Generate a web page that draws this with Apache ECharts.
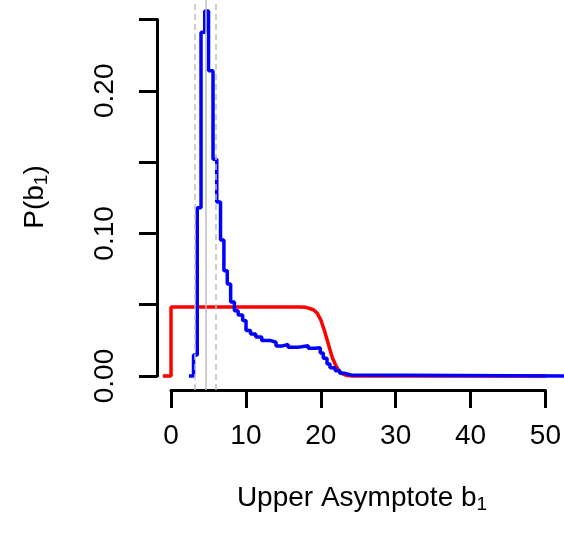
<!DOCTYPE html>
<html>
<head>
<meta charset="utf-8">
<script src="https://cdn.jsdelivr.net/npm/echarts@6/dist/echarts.min.js"></script>
<style>
  html, body { margin: 0; padding: 0; background: #fff; }
  #chart { width: 564px; height: 536px; }
</style>
</head>
<body>
<div id="chart"></div>
<script>
// posterior (blue, step line)
var blueX = [2.4, 3.0, 3.5, 4.0, 4.5, 5.0, 5.6, 6.1, 6.6, 7.05, 7.5, 7.95, 8.45, 8.95, 9.55, 10.0,
    10.6, 11.3, 12.1, 13.2, 14.0, 14.8, 15.6, 16.8, 17.4, 18.3, 19.2, 19.9, 20.3, 20.8, 21.2,
    21.9, 22.5, 23.2, 24.0, 52.4];
var blueY = [0, 0.0147, 0.118, 0.241, 0.256, 0.214, 0.152, 0.122, 0.0954, 0.0739, 0.0645, 0.052,
    0.0458, 0.0428, 0.039, 0.032, 0.0294, 0.0273, 0.025, 0.0237, 0.021, 0.0222, 0.0201, 0.0205,
    0.0212, 0.0194, 0.0198, 0.0161, 0.0124, 0.0084, 0.0058, 0.0037, 0.0019, 0.0007, 0, 0];

// prior (red)
var redX = [-1.1, 0, 0, 17, 18, 19, 19.5, 20, 20.5, 21, 21.5, 22, 22.5, 23, 23.5, 24, 25, 50];
var redY = [0, 0, 0.0484, 0.0484, 0.0482, 0.0465, 0.044, 0.039, 0.031, 0.022, 0.013, 0.007,
    0.003, 0.0012, 0.0004, 0.0001, 0, 0];

// grey reference lines (dashed, solid, dashed)
var refX = [3.2, 4.67, 6.0];
var refDash = [true, false, true];

var xTicks = [0, 10, 20, 30, 40, 50];
var yTicks = [0, 0.05, 0.1, 0.15, 0.2, 0.25];
var yLabeled = [0, 0.1, 0.2];

var font = "'Liberation Sans', Arial, Helvetica, sans-serif";

function pairs(xs, ys) {
    return xs.map((x, i) => [x, ys[i]]);
}

var chart = echarts.init(document.getElementById('chart'));

var option = {
    animation: false,
    backgroundColor: '#fff',
    grid: [
        { left: 157, top: 0, width: 407, height: 390 },            // plot region
        { left: 171, top: 380, width: 375, height: 10 },           // x axis 0..50
        { left: 157, top: 19.5, width: 10, height: 356.5 }         // y axis 0..0.25
    ],
    xAxis: [
        { gridIndex: 0, type: 'value', min: -1.87, max: 52.4, show: false },
        {
            gridIndex: 1, type: 'value', min: xTicks[0], max: xTicks[xTicks.length - 1], interval: 10,
            axisLine: { lineStyle: { color: '#000', width: 3 } },
            axisTick: { length: 18, lineStyle: { color: '#000', width: 3 } },
            axisLabel: { color: '#000', fontSize: 28, fontFamily: font, margin: 32 },
            splitLine: { show: false }
        },
        { gridIndex: 2, type: 'value', min: 0, max: 1, show: false }
    ],
    yAxis: [
        { gridIndex: 0, type: 'value', min: -0.0098, max: 0.2637, show: false },
        { gridIndex: 1, type: 'value', min: 0, max: 1, show: false },
        {
            gridIndex: 2, type: 'value', min: yTicks[0], max: yTicks[yTicks.length - 1], interval: 0.05,
            axisLine: { lineStyle: { color: '#000', width: 3 } },
            axisTick: { length: 18, lineStyle: { color: '#000', width: 3 } },
            axisLabel: {
                color: '#000', fontSize: 28, fontFamily: font, rotate: 90, margin: 38,
                formatter: function (v) {
                    return yLabeled.some(t => Math.abs(t - v) < 1e-9) ? v.toFixed(2) : '';
                }
            },
            splitLine: { show: false }
        }
    ],
    series: [
        {
            type: 'line', xAxisIndex: 0, yAxisIndex: 0, data: [], silent: true,
            markLine: {
                silent: true, symbol: 'none', label: { show: false },
                data: refX.map((x, i) => ({
                    xAxis: x,
                    lineStyle: { color: '#bebebe', width: 1.5, type: refDash[i] ? [6, 4] : 'solid' }
                }))
            }
        },
        {
            name: 'prior', type: 'line', xAxisIndex: 0, yAxisIndex: 0,
            data: pairs(redX, redY), showSymbol: false,
            lineStyle: { color: '#ff0000', width: 3.5 }
        },
        {
            name: 'posterior', type: 'line', xAxisIndex: 0, yAxisIndex: 0, step: 'end',
            data: pairs(blueX, blueY), showSymbol: false,
            lineStyle: { color: '#0000ff', width: 3.5 }
        }
    ],
    graphic: [
        {
            type: 'text', x: 362, y: 498,
            style: {
                text: '{a|Upper Asymptote b}{s|1}', align: 'center', verticalAlign: 'middle',
                rich: {
                    a: { fontSize: 28, lineHeight: 32, fontFamily: font, fill: '#000' },
                    s: { fontSize: 19, lineHeight: 16, verticalAlign: 'bottom', fontFamily: font, fill: '#000' }
                }
            }
        },
        {
            type: 'text', x: 35, y: 197, rotation: Math.PI / 2,
            style: {
                text: '{a|P(b}{s|1}{a|)}', align: 'center', verticalAlign: 'middle',
                rich: {
                    a: { fontSize: 28, lineHeight: 32, fontFamily: font, fill: '#000' },
                    s: { fontSize: 19, lineHeight: 16, verticalAlign: 'bottom', fontFamily: font, fill: '#000' }
                }
            }
        }
    ]
};

chart.setOption(option);
</script>
</body>
</html>
